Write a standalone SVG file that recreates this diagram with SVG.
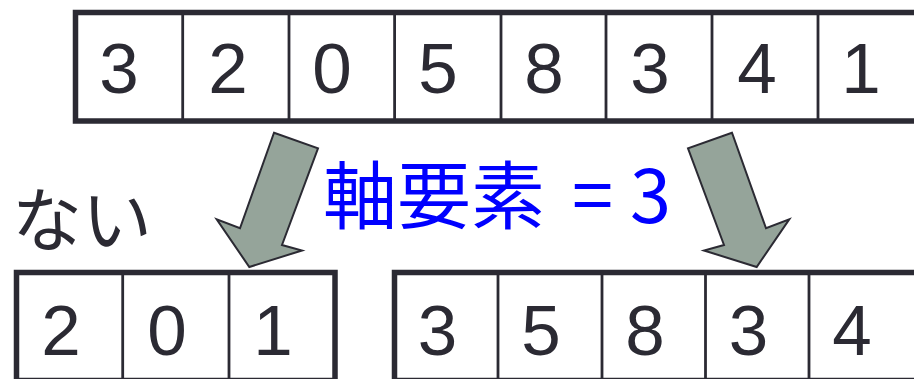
<svg xmlns="http://www.w3.org/2000/svg" width="914" height="379" viewBox="0 0 914 379">
<style>
.frame{fill:none;stroke:#2b2a33;stroke-width:5.5}
.div{stroke:#2b2a33;stroke-width:2.8}
.num{font-family:"Liberation Sans",Arial,sans-serif;font-size:71px;fill:#2b2a33;text-anchor:middle}
.arrow{fill:#95a49a;stroke:#2b2a33;stroke-width:2;stroke-linejoin:miter}
.jp{font-family:"Noto Sans CJK JP","Noto Sans",sans-serif}
</style>
<rect width="914" height="379" fill="#ffffff"/>
<g id="array-top">
<rect class="frame" x="75.5" y="12.5" width="849" height="108.5"/>
<line class="div" x1="182.7" y1="12" x2="182.7" y2="121"/>
<line class="div" x1="289" y1="12" x2="289" y2="121"/>
<line class="div" x1="394.6" y1="12" x2="394.6" y2="121"/>
<line class="div" x1="501" y1="12" x2="501" y2="121"/>
<line class="div" x1="606" y1="12" x2="606" y2="121"/>
<line class="div" x1="712" y1="12" x2="712" y2="121"/>
<line class="div" x1="818" y1="12" x2="818" y2="121"/>
<text class="num" x="119" y="93">3</text>
<text class="num" x="228" y="93">2</text>
<text class="num" x="332" y="93">0</text>
<text class="num" x="438" y="93">5</text>
<text class="num" x="544" y="93">8</text>
<text class="num" x="650" y="93">3</text>
<text class="num" x="757" y="93">4</text>
<text class="num" x="861" y="93">1</text>
</g>
<g id="array-left">
<rect class="frame" x="16.5" y="272.5" width="318.5" height="108"/>
<line class="div" x1="122.7" y1="272" x2="122.7" y2="380"/>
<line class="div" x1="229" y1="272" x2="229" y2="380"/>
<text class="num" x="61" y="355">2</text>
<text class="num" x="167" y="355">0</text>
<text class="num" x="273" y="355">1</text>
</g>
<g id="array-right">
<rect class="frame" x="394.5" y="272.5" width="522.5" height="108"/>
<line class="div" x1="498" y1="272" x2="498" y2="380"/>
<line class="div" x1="602" y1="272" x2="602" y2="380"/>
<line class="div" x1="705.5" y1="272" x2="705.5" y2="380"/>
<line class="div" x1="809" y1="272" x2="809" y2="380"/>
<text class="num" x="437.5" y="355">3</text>
<text class="num" x="541" y="355">5</text>
<text class="num" x="645" y="355">8</text>
<text class="num" x="748.5" y="355">3</text>
<text class="num" x="852" y="355">4</text>
</g>
<g id="connectors">
<polygon class="arrow" points="274,132.7 318,148.3 282,245 302,250.5 249.3,267 216.7,219.3 240,228.3"/>
<polygon class="arrow" points="732,132.7 688,148.3 724,245 704,250.5 756.7,267 789.3,219.3 766,228.3"/>
</g>
<g id="label-pivot">
<text class="jp" x="323" y="223" font-size="74" fill="#0000ff">軸要素 <tspan x="572">= </tspan><tspan x="630">3</tspan></text>
</g>
<g id="label-left">
<text class="jp" x="12" y="246" font-size="70" fill="#2b2a33">ない</text>
</g>
</svg>
